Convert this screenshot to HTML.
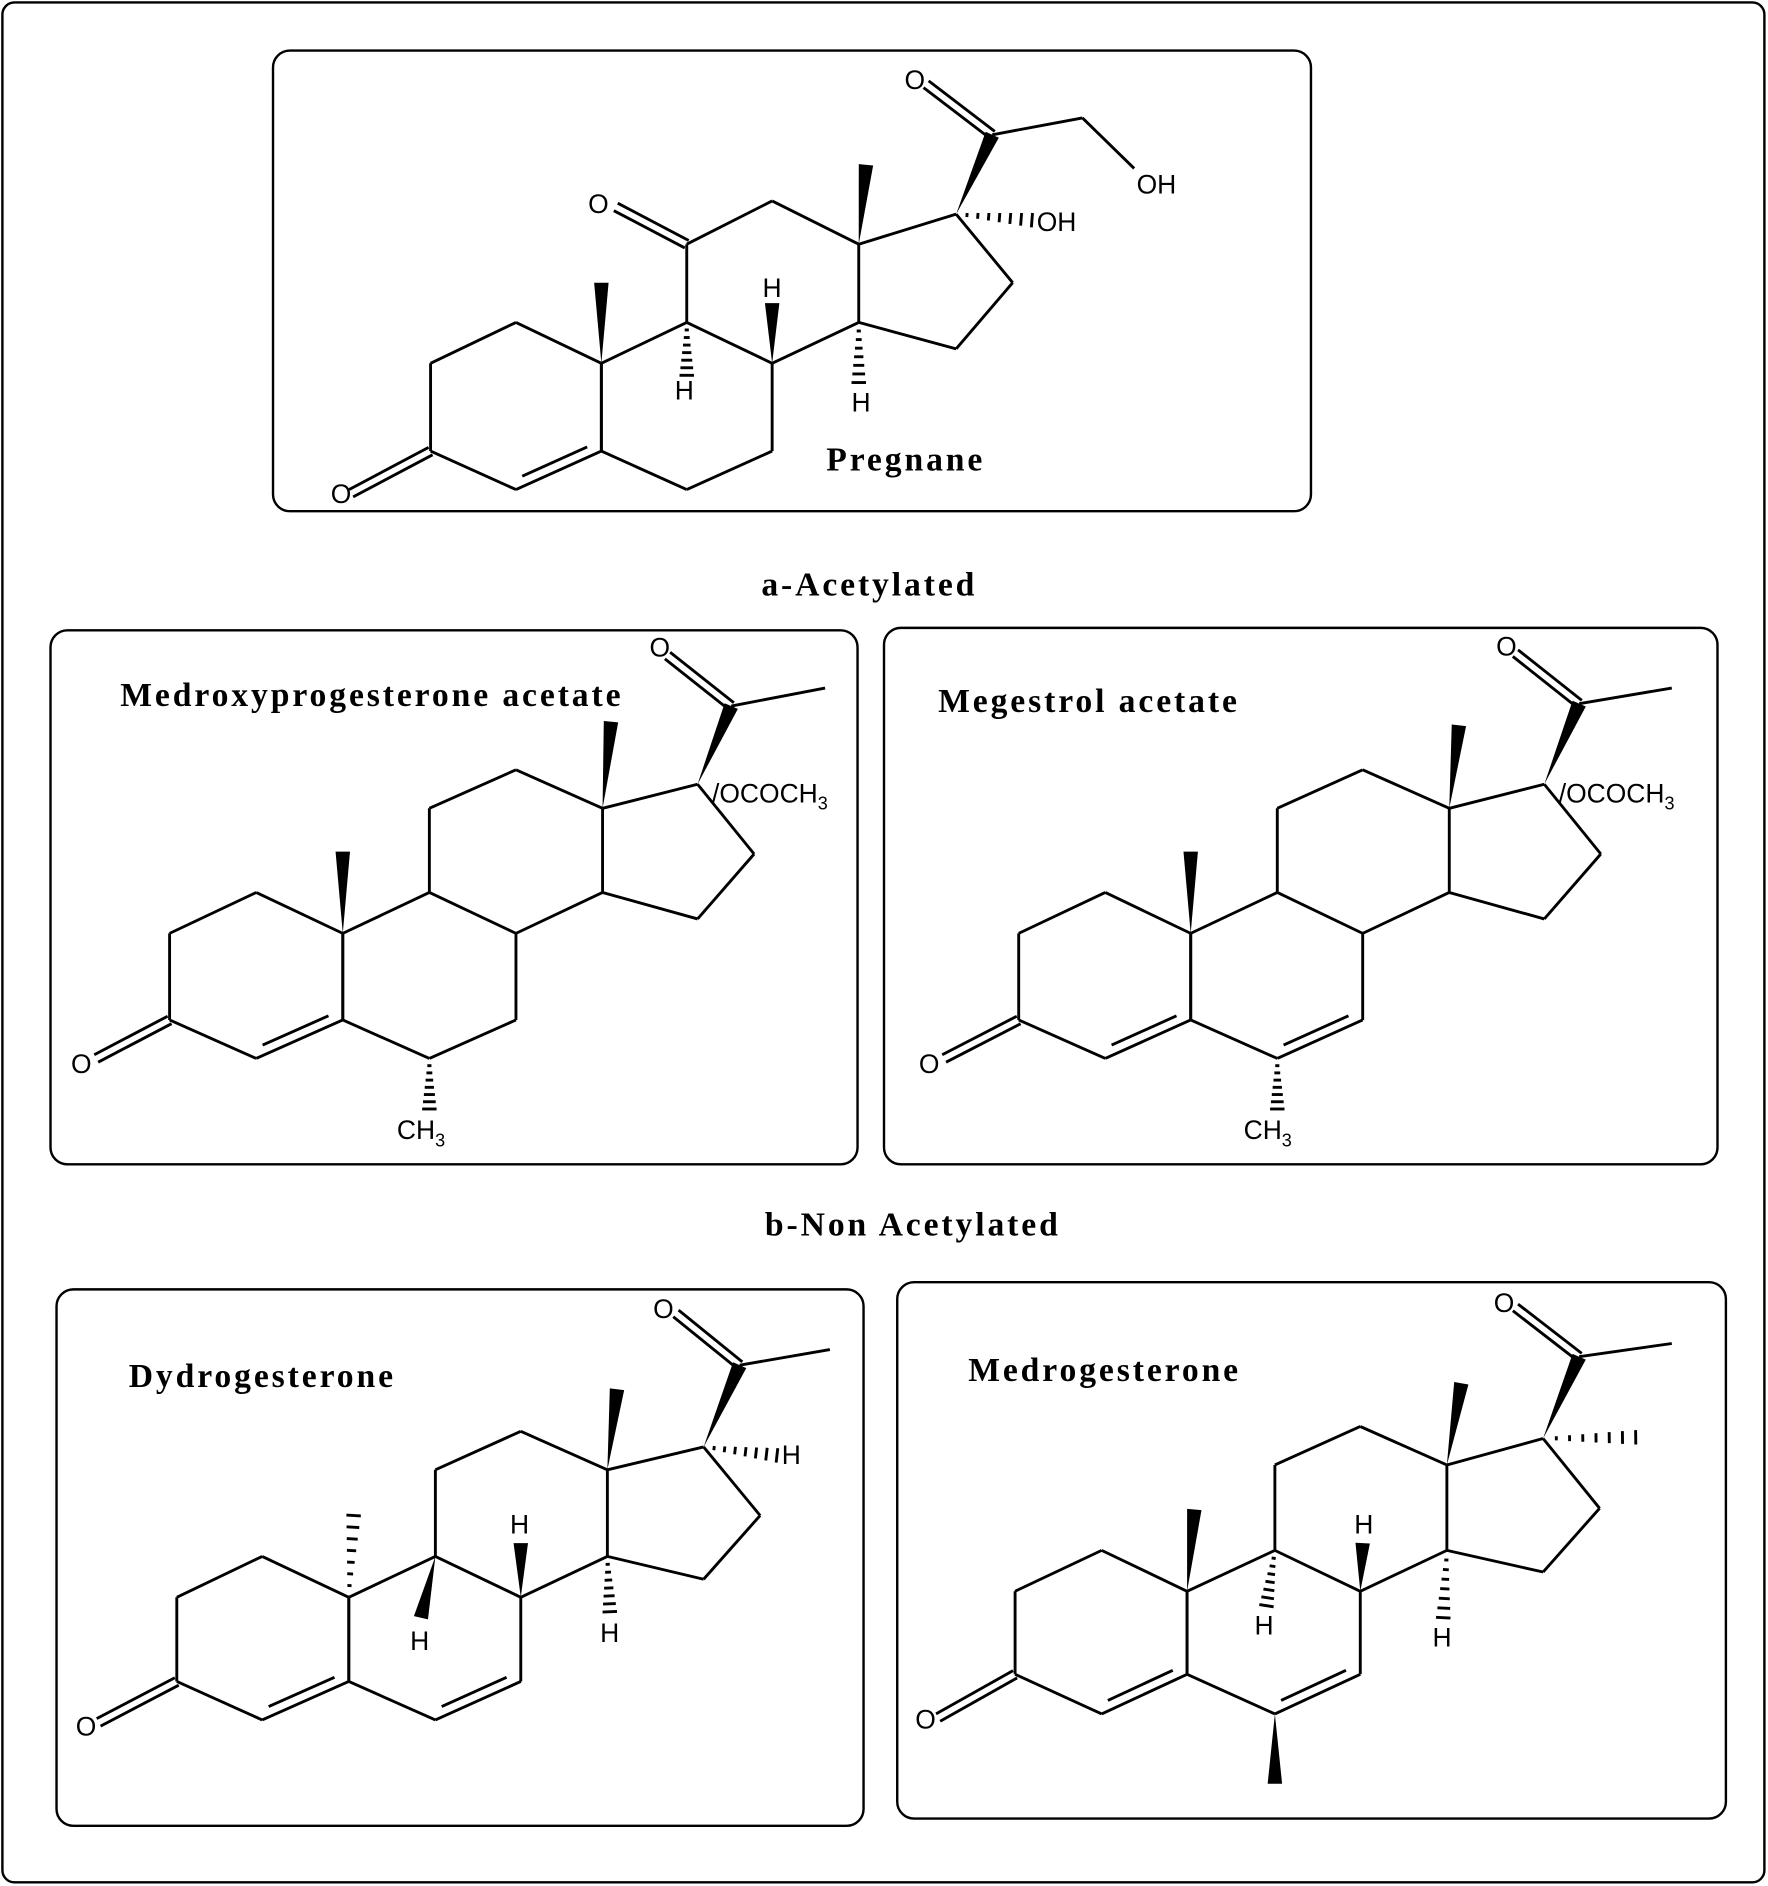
<!DOCTYPE html>
<html><head><meta charset="utf-8"><style>
html,body{margin:0;padding:0;background:#fff;}
svg{display:block;}
.t{font-family:"Liberation Serif",serif;font-weight:bold;font-size:28px;letter-spacing:2.4px;fill:#000;}
.a{font-family:"Liberation Sans",sans-serif;font-size:22px;fill:#000;}
.s{font-size:15px;}
</style></head><body>
<svg id="sv" width="1768" height="1886" viewBox="0 0 1470 1568" xmlns="http://www.w3.org/2000/svg">
<rect x="2" y="2" width="1465" height="1563" rx="10" fill="#fff" stroke="#000" stroke-width="2"/>
<rect x="227" y="42" width="863" height="383" rx="14" fill="none" stroke="#000" stroke-width="2"/>
<rect x="42" y="524" width="671" height="444" rx="14" fill="none" stroke="#000" stroke-width="2"/>
<rect x="735" y="522" width="693" height="446" rx="14" fill="none" stroke="#000" stroke-width="2"/>
<rect x="47" y="1072" width="671" height="446" rx="14" fill="none" stroke="#000" stroke-width="2"/>
<rect x="746" y="1066" width="689" height="446" rx="14" fill="none" stroke="#000" stroke-width="2"/>
<g id="bonds" stroke="#000" stroke-width="2.4" fill="none"></g>
<g id="solid" fill="#000"></g>
<text class="t" x="687" y="391">Pregnane</text>
<text class="t" x="633" y="495">a-Acetylated</text>
<text class="t" x="636" y="1027">b-Non Acetylated</text>
<text class="t" x="100" y="587">Medroxyprogesterone acetate</text>
<text class="t" x="780" y="592">Megestrol acetate</text>
<text class="t" x="107" y="1153">Dydrogesterone</text>
<text class="t" x="805" y="1148">Medrogesterone</text>
<text class="a" x="275" y="418">O</text>
<text class="a" x="489" y="177">O</text>
<text class="a" x="752" y="74">O</text>
<text class="a" x="945" y="161">OH</text>
<text class="a" x="862" y="192">OH</text>
<text class="a" x="561" y="332">H</text>
<text class="a" x="634" y="247">H</text>
<text class="a" x="708" y="342">H</text>
<text class="a" x="59" y="892">O</text>
<text class="a" x="540" y="546">O</text>
<text class="a" x="592" y="667">/OCOCH<tspan class="s" dy="6">3</tspan></text>
<text class="a" x="330" y="947">CH<tspan class="s" dy="6">3</tspan></text>
<text class="a" x="764" y="892">O</text>
<text class="a" x="1244" y="545">O</text>
<text class="a" x="1296" y="667">/OCOCH<tspan class="s" dy="6">3</tspan></text>
<text class="a" x="1034" y="947">CH<tspan class="s" dy="6">3</tspan></text>
<text class="a" x="63" y="1443">O</text>
<text class="a" x="543" y="1096">O</text>
<text class="a" x="650" y="1217">H</text>
<text class="a" x="341" y="1372">H</text>
<text class="a" x="424" y="1275">H</text>
<text class="a" x="499" y="1365">H</text>
<text class="a" x="761" y="1437">O</text>
<text class="a" x="1242" y="1091">O</text>
<text class="a" x="1043" y="1359">H</text>
<text class="a" x="1126" y="1275">H</text>
<text class="a" x="1191" y="1369">H</text>
</svg>
<script>
var B=document.getElementById('bonds'),S=document.getElementById('solid'),NS='http://www.w3.org/2000/svg';
function L(x1,y1,x2,y2){var l=document.createElementNS(NS,'line');l.setAttribute('x1',x1);l.setAttribute('y1',y1);l.setAttribute('x2',x2);l.setAttribute('y2',y2);B.appendChild(l);}
function P(pts){for(var i=0;i<pts.length-1;i++)L(pts[i][0],pts[i][1],pts[i+1][0],pts[i+1][1]);}
function ring(p){P(p.concat([p[0]]));}
function dbl(a,b,cx,cy){
 var dx=b[0]-a[0],dy=b[1]-a[1],len=Math.hypot(dx,dy),nx=-dy/len,ny=dx/len;
 var mx=(a[0]+b[0])/2,my=(a[1]+b[1])/2; if((cx-mx)*nx+(cy-my)*ny<0){nx=-nx;ny=-ny;}
 var o=8,sh=0.12;L(a[0]+dx*sh+nx*o,a[1]+dy*sh+ny*o,b[0]-dx*sh+nx*o,b[1]-dy*sh+ny*o);}
function co(a,b){
 var dx=b[0]-a[0],dy=b[1]-a[1],len=Math.hypot(dx,dy),nx=-dy/len*3.5,ny=dx/len*3.5;
 L(a[0]+nx,a[1]+ny,b[0]+nx,b[1]+ny);L(a[0]-nx,a[1]-ny,b[0]-nx,b[1]-ny);}
function W(a,b){var dx=b[0]-a[0],dy=b[1]-a[1],len=Math.hypot(dx,dy),nx=-dy/len*6,ny=dx/len*6;
 var p=document.createElementNS(NS,'polygon');p.setAttribute('points',a[0]+','+a[1]+' '+(b[0]+nx)+','+(b[1]+ny)+' '+(b[0]-nx)+','+(b[1]-ny));S.appendChild(p);}
function H(a,b){var dx=b[0]-a[0],dy=b[1]-a[1],len=Math.hypot(dx,dy),ux=-dy/len,uy=dx/len,n=7;
 for(var i=1;i<=n;i++){var t=i/n,x=a[0]+dx*t,y=a[1]+dy*t,w=1+5*t;L(x-ux*w,y-uy*w,x+ux*w,y+uy*w);}}
ring([[358,302],[429,268],[500,302],[500,375],[429,407],[358,375]]);dbl([500,375],[429,407],429,338);
co([358,375],[292,410]);
ring([[500,302],[571,268],[642,302],[642,375],[571,407],[500,375]]);
P([[571,268],[571,203],[642,167],[714,203],[714,268],[642,302]]);
P([[714,203],[795,178],[842,235],[795,290],[714,268]]);
co([571,203],[512,172]);
W([500,302],[500,235]);H([571,268],[571,312]);W([642,302],[642,252]);H([714,268],[714,318]);
W([714,203],[720,137]);W([795,178],[825,112]);co([825,112],[770,70]);P([[825,112],[900,98],[943,140]]);
H([795,178],[858,183]);
function st(o){
 var A=o.A,Bb=o.B,C=o.C,D=o.D;
 ring(A);dbl(A[3],A[4],(A[0][0]+A[3][0])/2,(A[0][1]+A[3][1])/2);co(A[5],o.O);
 ring(Bb);if(o.bd)dbl(Bb[3],Bb[4],(Bb[0][0]+Bb[3][0])/2,(Bb[0][1]+Bb[3][1])/2);
 P([Bb[1],C[0],C[1],C[2],C[3],Bb[2]]);P([C[2],D[0],D[1],D[2],C[3]]);
 W(C[2],o.m18);W(D[0],o.c20);co(o.c20,o.O2);L(o.c20[0],o.c20[1],o.m21[0],o.m21[1]);
}
st({A:[[141,776],[213,742],[285,776],[285,848],[213,880],[141,848]],B:[[285,776],[357,742],[429,776],[429,848],[357,880],[285,848]],
 C:[[357,672],[429,640],[501,672],[501,742]],D:[[580,652],[627,710],[580,764]],O:[80,880],m18:[508,600],c20:[608,587],O2:[555,545],m21:[686,572]});
W([285,776],[285,708]);H([357,880],[357,922]);
st({A:[[847,776],[919,742],[990,776],[990,848],[919,880],[847,848]],B:[[990,776],[1062,742],[1133,776],[1133,848],[1062,880],[990,848]],bd:1,
 C:[[1062,672],[1133,640],[1205,672],[1205,742]],D:[[1284,652],[1331,710],[1284,764]],O:[785,880],m18:[1213,603],c20:[1313,585],O2:[1260,543],m21:[1390,572]});
W([990,776],[990,708]);H([1062,880],[1062,922]);
st({A:[[147,1328],[218,1294],[290,1328],[290,1398],[218,1430],[147,1398]],B:[[290,1328],[362,1294],[433,1328],[433,1398],[362,1430],[290,1398]],bd:1,
 C:[[362,1222],[433,1190],[505,1222],[505,1294]],D:[[585,1203],[632,1260],[585,1313]],O:[82,1432],m18:[513,1155],c20:[615,1135],O2:[562,1092],m21:[690,1122]});
H([290,1328],[294,1260]);W([362,1294],[350,1345]);W([433,1328],[433,1283]);H([505,1294],[507,1340]);H([585,1203],[646,1210]);
st({A:[[844,1323],[916,1289],[987,1323],[987,1392],[916,1425],[844,1392]],B:[[987,1323],[1060,1289],[1131,1323],[1131,1392],[1060,1425],[987,1392]],bd:1,
 C:[[1060,1218],[1131,1186],[1203,1218],[1203,1289]],D:[[1283,1196],[1330,1254],[1283,1307]],O:[780,1428],m18:[1215,1150],c20:[1313,1128],O2:[1260,1087],m21:[1390,1117]});
W([987,1323],[993,1255]);H([1060,1289],[1053,1335]);W([1131,1323],[1133,1283]);H([1203,1289],[1200,1345]);H([1283,1196],[1360,1195]);W([1060,1425],[1060,1483]);
</script>
</body></html>
